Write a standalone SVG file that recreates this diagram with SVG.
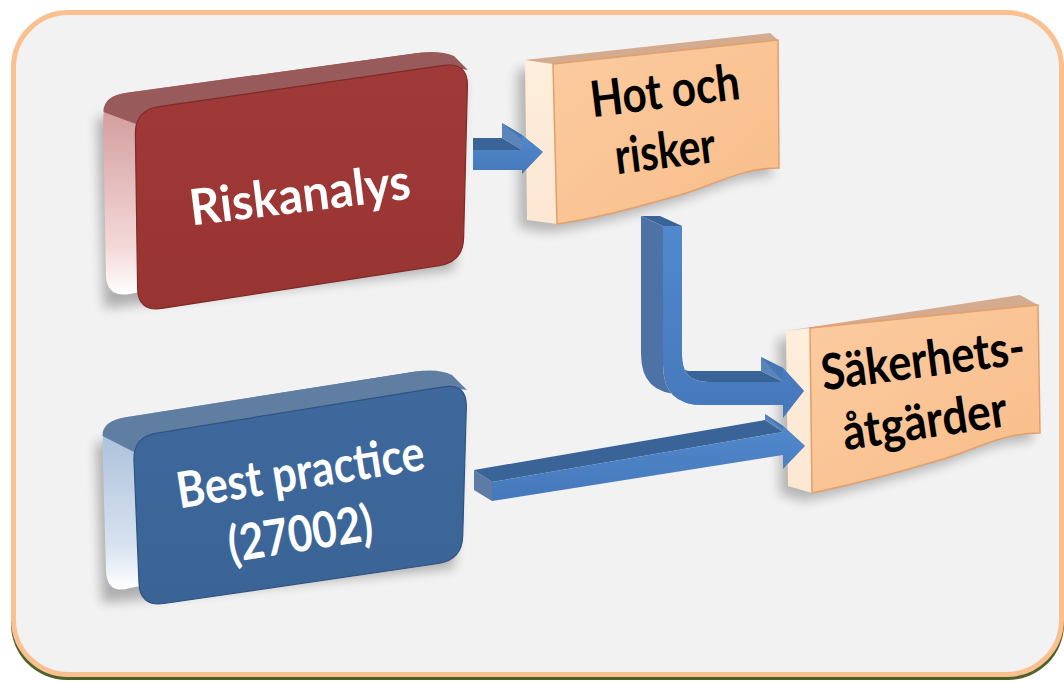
<svg xmlns="http://www.w3.org/2000/svg" width="1064" height="682" viewBox="0 0 1064 682">
<defs>
<style>
.lbl{font-family:Lato,"Open Sans","Liberation Sans",sans-serif;font-weight:700;font-size:50px;text-anchor:middle}
.w{fill:#FFFFFF}
.k{fill:#000000}
.af{fill:url(#arrowFront)}
.at{fill:#3A6497}
.as{fill:#5A84BA}
.ah{fill:#4576B5}
.ae{fill:#5D7CA5}
</style>
<filter id="sh" x="-20%" y="-20%" width="140%" height="140%"><feGaussianBlur stdDeviation="6"/></filter>
<linearGradient id="redSide" x1="0" y1="0" x2="0" y2="1">
<stop offset="0" stop-color="#8A3E3E"/><stop offset="0.22" stop-color="#D29C9C"/><stop offset="0.8" stop-color="#F3D8D8"/><stop offset="1" stop-color="#FFFFFF"/>
</linearGradient>
<linearGradient id="blueSide" x1="0" y1="0" x2="0" y2="1">
<stop offset="0" stop-color="#3E5F8C"/><stop offset="0.22" stop-color="#A7BDD9"/><stop offset="0.8" stop-color="#D8E3F0"/><stop offset="1" stop-color="#FFFFFF"/>
</linearGradient>
<linearGradient id="redFront" x1="0" y1="0" x2="0" y2="1">
<stop offset="0" stop-color="#A03A38"/><stop offset="1" stop-color="#983432"/>
</linearGradient>
<linearGradient id="blueFront" x1="0" y1="0" x2="0" y2="1">
<stop offset="0" stop-color="#3F699C"/><stop offset="1" stop-color="#3A6396"/>
</linearGradient>
<linearGradient id="peachFront" x1="0" y1="0" x2="1" y2="1">
<stop offset="0" stop-color="#FBCBA0"/><stop offset="1" stop-color="#F9BD8A"/>
</linearGradient>
<linearGradient id="creamSide" x1="0" y1="0" x2="0" y2="1">
<stop offset="0" stop-color="#FDEEDD"/><stop offset="1" stop-color="#FCE7D2"/>
</linearGradient>
<linearGradient id="arrowFront" x1="0" y1="0" x2="0" y2="1">
<stop offset="0" stop-color="#5189CC"/><stop offset="1" stop-color="#4578BA"/>
</linearGradient>
</defs>

<g id="panel">
<rect x="11" y="16" width="1053" height="664" rx="56" fill="#4F6228"/>
<rect x="13.5" y="12.5" width="1048" height="662" rx="55" fill="#F2F2F2" stroke="#FAC090" stroke-width="5"/>
</g>

<g id="node-riskanalys">
<path d="M103,110 L110,300 L460,262 L470,70 Z" transform="translate(-6,8)" fill="#000" opacity="0.28" filter="url(#sh)"/>
<path d="M126.8,92.8 L416.2,53.2 Q440,50 439.6,74 L438.4,226 L130,294 Q106,298 105.9,274 L103.1,120 Q103,96 126.8,92.8 Z" fill="url(#redSide)"/>
<path d="M103.5,112 Q103,96 126.8,92.8 L416.2,53.2 Q440,50 454,56 L468,70 L444,65.4 L159,106.6 Q140,109 136,124 Z" fill="#985A5A"/>
<path d="M159,106.6 L444,65.4 Q468,62 467.4,86 L463.6,238 Q463,262 439.3,265.6 L161.7,308.4 Q138,312 137.6,288 L135.4,134 Q135,110 159,106.6 Z" fill="url(#redFront)" stroke="#7E2A28" stroke-width="1.2"/>
<text class="lbl w" transform="translate(302,212) rotate(-7)" textLength="222" lengthAdjust="spacingAndGlyphs">Riskanalys</text>
</g>

<g id="node-bestpractice">
<path d="M102,435 L108,595 L460,560 L467,392 Z" transform="translate(-6,8)" fill="#000" opacity="0.28" filter="url(#sh)"/>
<path d="M125.7,417.2 L414.3,371.8 Q438,368 437.7,392 L436,530 L130,588 Q107,595 106,571 L102.5,445 Q102,421 125.7,417.2 Z" fill="url(#blueSide)"/>
<path d="M102.5,436 Q102,421 125.7,417.2 L414.3,371.8 Q438,368 452,375 L467,390 L443.3,386.8 L156.7,433.2 Q138,436 134,452 Z" fill="#5F7EA2"/>
<path d="M156.7,433.2 L443.3,386.8 Q467,383 466.3,407 L462.7,536 Q462,560 438.2,563.5 L163.8,603.5 Q140,607 139,583 L134,461 Q133,437 156.7,433.2 Z" fill="url(#blueFront)" stroke="#2F5282" stroke-width="1.2"/>
<text class="lbl w" transform="translate(303,489) rotate(-9)" textLength="250" lengthAdjust="spacingAndGlyphs">Best practice</text>
<text class="lbl w" transform="translate(303,551) rotate(-9)" textLength="146" lengthAdjust="spacingAndGlyphs">(27002)</text>
</g>

<g id="node-hot">
<path d="M525,62 L778,40 L779,168 C740,168 715,185 680,195 C640,206 600,218 557,224 L527,220 Z" transform="translate(-8,8)" fill="#000" opacity="0.25" filter="url(#sh)"/>
<path d="M525,60 L553,64 L557,224 L527,220 Z" fill="url(#creamSide)"/>
<path d="M525,60 L770,33 L778,40 L553,64 Z" fill="#D5AB8F"/>
<path d="M553,64 L778,40 L779,168 C740,168 715,185 680,195 C640,206 600,218 557,224 Z" fill="url(#peachFront)" stroke="#E29F6C" stroke-width="1.5"/>
<text class="lbl k" transform="translate(667,108) rotate(-7)" textLength="150" lengthAdjust="spacingAndGlyphs">Hot och</text>
<text class="lbl k" transform="translate(667,168) rotate(-7)" textLength="101" lengthAdjust="spacingAndGlyphs">risker</text>
</g>

<g id="node-sakerhet">
<path d="M786,331 L1038,305 L1040,433 C1000,433 975,450 940,460 C900,472 850,485 812,493 L788,486 Z" transform="translate(-8,8)" fill="#000" opacity="0.25" filter="url(#sh)"/>
<path d="M786,331 L810,328 L812,493 L788,486 Z" fill="url(#creamSide)"/>
<path d="M786,331 L1020,295 L1038,305 L810,328 Z" fill="#D5AB8F"/>
<path d="M810,328 L1038,305 L1040,433 C1000,433 975,450 940,460 C900,472 850,485 812,493 Z" fill="url(#peachFront)" stroke="#E29F6C" stroke-width="1.5"/>
<text class="lbl k" transform="translate(925,377) rotate(-7.5)" textLength="205" lengthAdjust="spacingAndGlyphs">Säkerhets-</text>
<text class="lbl k" transform="translate(927,438) rotate(-8.5)" textLength="166" lengthAdjust="spacingAndGlyphs">åtgärder</text>
</g>

<g id="connectors">
<g id="arrow-riskanalys-hot">
<path class="at" d="M473,138 L502,138 L522,150 L473,150 Z"/>
<path class="as" d="M502,123 L522,135 L522,150 L502,138 Z"/>
<path class="ah" d="M502,123 L523,140 L543,152 L522,135 Z"/>
<path class="af" d="M473,150 L522,150 L522,135 L543,152 L522,174 L522,170 L473,170 Z"/>
</g>
<g id="arrow-hot-sakerhet">
<path class="at" d="M641,216 L660,216 L682,226 L663,226 Z"/>
<path fill="#4D73A6" d="M641,216 L663,226 L663,365 Q663,405 703,405 L681,394 Q641,394 641,354 Z"/>
<path class="at" d="M682,356 Q682,382 708,382 L783,382 L761,371 L690,371 Q684,371 682,366 Z"/>
<path class="as" d="M761,357 L783,368 L783,382 L761,371 Z"/>
<path class="ah" d="M761,357 L782,380 L804,391 L783,368 Z"/>
<path class="af" d="M663,226 L682,226 L682,356 Q682,382 708,382 L783,382 L783,368 L804,391 L783,418 L783,405 L703,405 Q663,405 663,365 Z"/>
</g>
<g id="arrow-best-sakerhet">
<path class="ae" d="M474,470 L492,482 L492,501 L474,490 Z"/>
<path class="at" d="M474,470 L765,420 L783,432 L492,482 Z"/>
<path class="as" d="M765,414 L783,426 L783,432 L765,420 Z"/>
<path class="ah" d="M765,414 L787,434 L805,446 L783,426 Z"/>
<path class="af" d="M492,482 L783,432 L783,426 L805,446 L783,469 L783,455 L492,501 Z"/>
</g>
</g>
</svg>
